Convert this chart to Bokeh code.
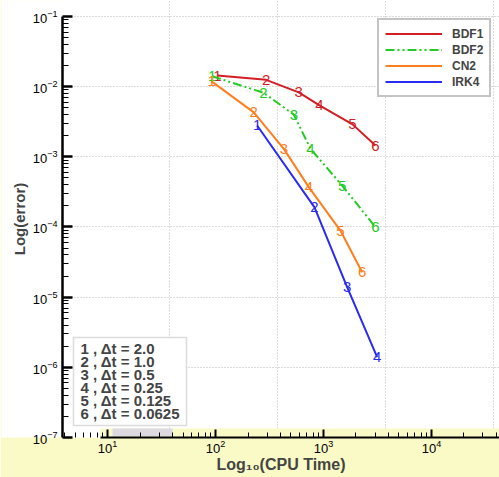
from bokeh.plotting import figure
from bokeh.models import (Range1d, FixedTicker, BoxAnnotation, Label, Legend,
                          LegendItem, LinearAxis)
from bokeh.embed import file_html
from bokeh.resources import INLINE
from bokeh.core.properties import value

# ---- data ----
series_names = ["BDF1", "BDF2", "CN2", "IRK4"]
series_colors = ["#D21E24", "#22CC22", "#FF7F1E", "#2A2AF5"]
series_dash = ["solid", "9 3 2 3 2 3", "solid", "solid"]

bdf1_time = [104, 294, 590, 918, 1858, 3030]
bdf1_err = [0.0144, 0.0125, 0.0083, 0.0054, 0.0029, 0.00145]
bdf2_time = [93, 278, 531, 758, 1489, 3030]
bdf2_err = [0.0141, 0.0082, 0.0040, 0.0013, 0.00039, 0.0000993]
cn2_time = [92, 226, 429, 731, 1435, 2280]
cn2_err = [0.0119, 0.0043, 0.0013, 0.00037, 0.000089, 0.0000227]
irk4_time = [243, 826, 1656, 3140]
irk4_err = [0.0028, 0.00019, 0.0000139, 0.0000014]

step_ids = ["1", "2", "3", "4", "5", "6"]
dt_values = ["2.0", "1.0", "0.5", "0.25", "0.125", "0.0625"]

y_ticks = [1e-7, 1e-6, 1e-5, 1e-4, 1e-3, 1e-2, 1e-1]
x_ticks = [1e1, 1e2, 1e3, 1e4]
grid_x = [37.5, 375, 3750, 37500]

FONT = "Liberation Sans"
YELLOW = "#FAFAC6"

p = figure(width=499, height=477, x_axis_type="log", y_axis_type="log",
           x_range=Range1d(10 ** 0.583, 10 ** 4.63),
           y_range=Range1d(1e-7, 10 ** (-1 + 16 / 70.17)),
           output_backend="svg", toolbar_location=None,
           min_border_left=62, min_border_right=0, min_border_top=0,
           min_border_bottom=40)
p.outline_line_color = None
p.background_fill_color = "white"
p.border_fill_color = YELLOW

# grids
p.xgrid.ticker = FixedTicker(ticks=grid_x)
p.ygrid.ticker = FixedTicker(ticks=y_ticks)
for g in (p.xgrid, p.ygrid):
    g.grid_line_color = "#b8b8b8"
    g.grid_line_dash = "1 2"
    g.grid_line_width = 1

# y axis
minor_y = [m * t for t in y_ticks[:-1] for m in range(2, 10)]
p.yaxis.ticker = FixedTicker(ticks=y_ticks, minor_ticks=minor_y)
p.yaxis.bounds = (y_ticks[0], y_ticks[-1])
p.yaxis.background_fill_color = "white"
p.yaxis.axis_line_width = 2.5
p.yaxis.major_tick_line_width = 2.5
p.yaxis.major_tick_in = 10
p.yaxis.major_tick_out = 0
p.yaxis.minor_tick_in = 6
p.yaxis.minor_tick_out = 0
p.yaxis.minor_tick_line_width = 1
p.yaxis.major_label_text_font = FONT
p.yaxis.major_label_text_font_size = "13px"
p.yaxis.major_label_text_color = "black"
p.yaxis.major_label_standoff = 5
p.yaxis.axis_label = "Log(error)"
p.yaxis.axis_label_text_font = FONT
p.yaxis.axis_label_text_font_size = "15px"
p.yaxis.axis_label_text_font_style = "bold"
p.yaxis.axis_label_standoff = 2

# white spacer at the far left (keeps the yellow only in the bottom band)
spacer = LinearAxis(ticker=FixedTicker(ticks=[]), axis_line_color=None,
                    major_tick_line_color=None, minor_tick_line_color=None,
                    major_tick_in=0, major_tick_out=0, minor_tick_in=0,
                    minor_tick_out=0, major_label_standoff=0,
                    major_label_text_font_size="0px",
                    axis_label="\u00a0", axis_label_text_font_size="3px",
                    axis_label_standoff=0, background_fill_color="white")
p.add_layout(spacer, "left")

# x axis
minor_x = [m * t for t in [1e0] + x_ticks for m in range(2, 10)]
p.xaxis.ticker = FixedTicker(ticks=x_ticks, minor_ticks=minor_x)
p.xaxis.bounds = (10 ** 0.935, 10 ** 4.63)
p.xaxis.axis_line_width = 2
p.xaxis.major_tick_line_width = 2
p.xaxis.major_tick_in = 8
p.xaxis.major_tick_out = 0
p.xaxis.minor_tick_in = 5
p.xaxis.minor_tick_out = 0
p.xaxis.major_label_text_font = FONT
p.xaxis.major_label_text_font_size = "13px"
p.xaxis.major_label_text_color = "black"
p.xaxis.major_label_standoff = 2
p.xaxis.axis_label = "Log\u2081\u2080(CPU Time)"
p.xaxis.axis_label_text_font = FONT
p.xaxis.axis_label_text_font_size = "16px"
p.xaxis.axis_label_text_font_style = "bold"
p.xaxis.axis_label_standoff = 0

# yellow strip over the bottom of the frame
p.add_layout(BoxAnnotation(left=100, right=499, top=428, bottom=437,
                           left_units="canvas", right_units="canvas",
                           top_units="canvas", bottom_units="canvas",
                           fill_color=YELLOW, fill_alpha=1, line_color=None,
                           level="underlay"))
p.add_layout(BoxAnnotation(left=112, right=172, top=428, bottom=436,
                           left_units="canvas", right_units="canvas",
                           top_units="canvas", bottom_units="canvas",
                           fill_color="#DCDAE0", fill_alpha=1, line_color=None,
                           level="underlay"))

# series
times = [bdf1_time, bdf2_time, cn2_time, irk4_time]
errs = [bdf1_err, bdf2_err, cn2_err, irk4_err]
items = []
for name, col, dash, xs, ys in zip(series_names, series_colors, series_dash, times, errs):
    r = p.line(xs, ys, line_color=col, line_width=2, line_dash=dash)
    p.text(xs, ys, text=step_ids[:len(xs)], text_color=col,
           text_font=value(FONT), text_font_size="15px",
           text_align="center", text_baseline="middle")
    items.append(LegendItem(label=name, renderers=[r]))

legend = Legend(items=items, location=(315, 340))
legend.label_text_font = FONT
legend.label_text_font_style = "bold"
legend.label_text_font_size = "12px"
legend.glyph_width = 57
legend.glyph_height = 15
legend.label_height = 15
legend.label_standoff = 10
legend.spacing = 1
legend.padding = 6
legend.margin = 0
legend.border_line_color = "#8a8a8a"
legend.border_line_width = 2
legend.background_fill_color = "white"
legend.background_fill_alpha = 1
p.add_layout(legend, "center")

# step-size key box
p.add_layout(BoxAnnotation(left=73, right=186, top=337, bottom=425,
                           left_units="canvas", right_units="canvas",
                           top_units="canvas", bottom_units="canvas",
                           fill_color="white", fill_alpha=1,
                           line_color="#8a8a8a", line_width=1.5))
dt_text = "\n".join(f"{i} , \u0394t = {d}" for i, d in zip(step_ids, dt_values))
p.add_layout(Label(x=80, y=339, x_units="canvas", y_units="canvas",
                   text=dt_text, text_font=FONT, text_font_size="15px",
                   text_font_style="bold", text_line_height=0.77,
                   text_align="left", text_baseline="top"))

open("out.html", "w").write(file_html(p, INLINE))
